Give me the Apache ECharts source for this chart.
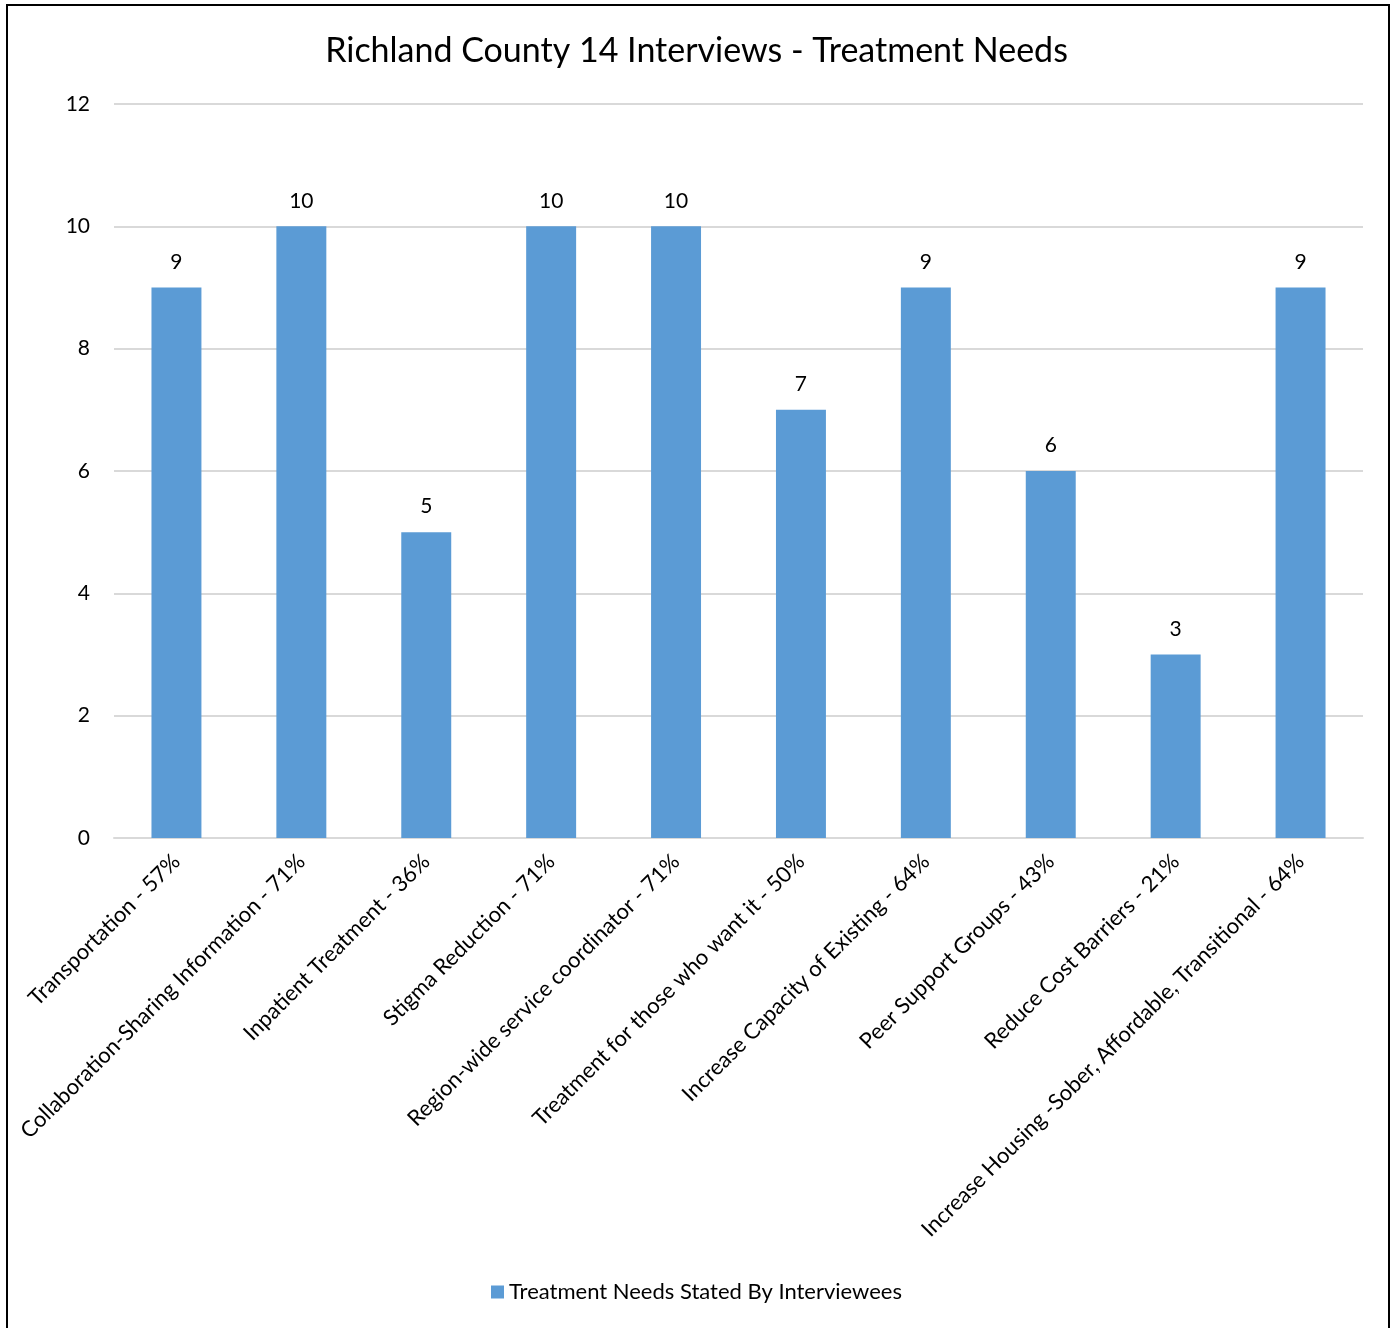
<!DOCTYPE html>
<html>
<head>
<meta charset="utf-8">
<script src="https://cdn.jsdelivr.net/npm/echarts@6/dist/echarts.min.js"></script>
<style>
  html, body { margin: 0; padding: 0; background: #fff; }
  #chart { width: 1393px; height: 1328px; }
</style>
</head>
<body>
<div id="chart"></div>
<script>
const categories = [
  'Transportation - 57%',
  'Collaboration-Sharing Information - 71%',
  'Inpatient Treatment - 36%',
  'Stigma Reduction - 71%',
  'Region-wide service coordinator - 71%',
  'Treatment for those who want it - 50%',
  'Increase Capacity of Existing - 64%',
  'Peer Support Groups - 43%',
  'Reduce Cost Barriers - 21%',
  'Increase Housing -Sober, Affordable, Transitional - 64%'
];
const counts = [9, 10, 5, 10, 10, 7, 9, 6, 3, 9];
const seriesName = 'Treatment Needs Stated By Interviewees';
const titleText = 'Richland County 14 Interviews - Treatment Needs';

const FONT = 'Lato, "Open Sans", sans-serif';
const chart = echarts.init(document.getElementById('chart'), null, { renderer: 'canvas' });

chart.setOption({
  backgroundColor: '#ffffff',
  animation: false,
  title: {
    text: titleText,
    left: 'center',
    top: 29,
    textStyle: { fontFamily: FONT, fontSize: 34, fontWeight: 'normal', color: '#000' }
  },
  legend: {
    bottom: 20,
    left: 'center',
    itemWidth: 13,
    itemHeight: 13,
    itemGap: 6,
    icon: 'rect',
    textStyle: { fontFamily: FONT, fontSize: 22, color: '#000' },
    data: [seriesName]
  },
  grid: { left: 114, right: 30, top: 104, bottom: 490 },
  xAxis: {
    type: 'category',
    data: categories,
    axisLine: { lineStyle: { color: '#d9d9d9', width: 2 } },
    axisTick: { show: false },
    axisLabel: {
      interval: 0,
      rotate: 45,
      margin: 20,
      fontFamily: FONT,
      fontSize: 22,
      color: '#000'
    }
  },
  yAxis: {
    type: 'value',
    min: 0,
    max: 12,
    interval: 2,
    axisLine: { show: false },
    axisTick: { show: false },
    splitLine: { lineStyle: { color: '#d9d9d9', width: 2 } },
    axisLabel: { margin: 24, fontFamily: FONT, fontSize: 21, color: '#000' }
  },
  series: [{
    name: seriesName,
    type: 'bar',
    data: counts,
    barWidth: '40%',
    itemStyle: { color: '#5b9bd5' },
    label: {
      show: true,
      position: 'top',
      distance: 15,
      fontFamily: FONT,
      fontSize: 21,
      color: '#000'
    }
  }],
  graphic: [{
    type: 'rect',
    shape: { x: 7, y: 5, width: 1382, height: 1340 },
    style: { fill: null, stroke: '#000', lineWidth: 2 },
    silent: true
  }]
});
</script>
</body>
</html>
